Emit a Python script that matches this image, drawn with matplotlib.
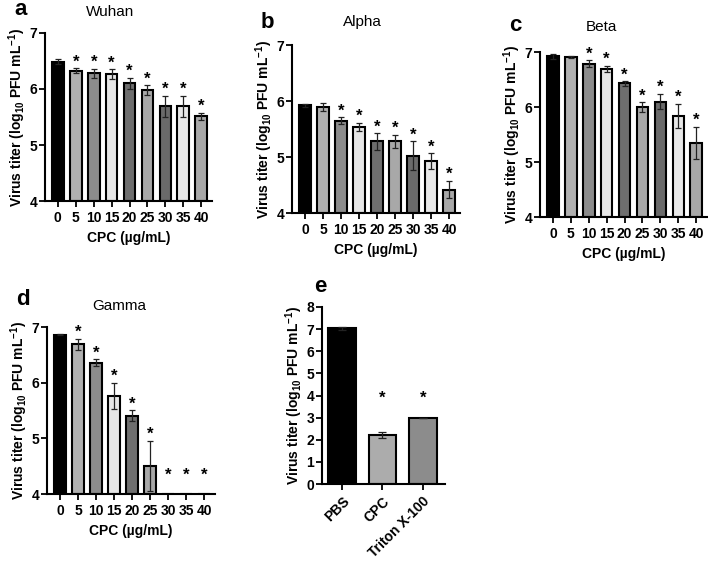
import numpy as np
import matplotlib
matplotlib.use('Agg')
import matplotlib.pyplot as plt

plt.rcParams['font.family'] = ['Liberation Sans', 'DejaVu Sans']
plt.rcParams['mathtext.fontset'] = 'custom'
plt.rcParams['mathtext.bf'] = 'Liberation Sans:bold'
plt.rcParams['mathtext.rm'] = 'Liberation Sans:bold'
plt.rcParams['mathtext.default'] = 'bf'

# concentrations (ug/mL)
conc = ['0', '5', '10', '15', '20', '25', '30', '35', '40']

wuhan = [6.49, 6.33, 6.28, 6.26, 6.10, 5.98, 5.69, 5.69, 5.51]
wuhan_err = [0.05, 0.04, 0.08, 0.09, 0.10, 0.09, 0.19, 0.19, 0.07]
wuhan_sig = [0, 1, 1, 1, 1, 1, 1, 1, 1]

alpha = [5.92, 5.89, 5.65, 5.54, 5.28, 5.28, 5.02, 4.93, 4.42]
alpha_err = [0.02, 0.07, 0.06, 0.07, 0.15, 0.12, 0.26, 0.14, 0.16]
alpha_sig = [0, 0, 1, 1, 1, 1, 1, 1, 1]

beta = [6.92, 6.91, 6.79, 6.69, 6.43, 6.00, 6.10, 5.84, 5.35]
beta_err = [0.04, 0.02, 0.06, 0.06, 0.04, 0.09, 0.14, 0.22, 0.29]
beta_sig = [0, 0, 1, 1, 1, 1, 1, 1, 1]

gamma = [6.86, 6.69, 6.36, 5.76, 5.41, 4.51, np.nan, np.nan, np.nan]
gamma_err = [0.01, 0.10, 0.06, 0.24, 0.10, 0.45, 0, 0, 0]
gamma_sig = [0, 1, 1, 1, 1, 1, 1, 1, 1]

treat = ['PBS', 'CPC', 'Triton X-100']
treat_val = [7.03, 2.21, 2.98]
treat_err = [0.06, 0.14, 0.0]
treat_sig = [0, 1, 1]

bar_colors = ['#000000', '#b0b0b0', '#8c8c8c', '#e6e6e6', '#6e6e6e',
              '#a8a8a8', '#6a6a6a', '#e8e8e8', '#a8a8a8']
treat_colors = ['#000000', '#acacac', '#8c8c8c']

ylab = r'Virus titer (log$_{10}$ PFU mL$^{-1}$)'

fig = plt.figure(figsize=(7.08, 5.64), dpi=100)


def style(ax):
    ax.spines['top'].set_visible(False)
    ax.spines['right'].set_visible(False)
    for s in ['left', 'bottom']:
        ax.spines[s].set_linewidth(1.5)
    ax.tick_params(width=1.3, length=4, labelsize=10)
    ax.tick_params(axis='y', pad=1.5)
    for lab in ax.get_xticklabels() + ax.get_yticklabels():
        lab.set_fontweight('bold')


def panel(rect, vals, errs, sig, title, letter, title_pad, title_x,
          letter_y, nan_star=4.22):
    ax = fig.add_axes(rect)
    x = np.arange(len(vals))
    v = np.array(vals, dtype=float)
    ax.bar(x, np.nan_to_num(v, nan=4.0) - 4, bottom=4, width=0.65,
           color=bar_colors, edgecolor='black', linewidth=1.5, zorder=2)
    ok = ~np.isnan(v)
    ax.errorbar(x[ok], v[ok], yerr=np.array(errs)[ok], fmt='none',
                ecolor='#222222', elinewidth=0.9, capsize=2.5,
                capthick=0.9, zorder=3)
    for i in range(len(vals)):
        if sig[i]:
            top = v[i] + errs[i] if ok[i] else nan_star
            ax.annotate('*', (x[i], top), xytext=(0, -1),
                        textcoords='offset points', ha='center',
                        va='bottom', fontsize=12, fontweight='bold')
    ax.set_ylim(4, 7)
    ax.set_yticks([4, 5, 6, 7])
    ax.set_xlim(-0.72, 8.6)
    ax.set_xticks(x)
    ax.set_xticklabels(conc)
    ax.set_xlabel('CPC (µg/mL)', fontsize=10, fontweight='bold')
    ax.set_ylabel(ylab, fontsize=10, fontweight='bold', labelpad=1)
    ax.set_title(title, fontsize=11, pad=title_pad, x=title_x)
    style(ax)
    ax.text(-0.185, letter_y, letter, transform=ax.transAxes, fontsize=16,
            fontweight='bold', va='baseline', ha='left')
    return ax


panel([0.0635, 0.6436, 0.2359, 0.2979], wuhan, wuhan_err, wuhan_sig,
      'Wuhan', 'a', 12, 0.39, 1.105)
panel([0.4124, 0.6223, 0.2373, 0.2979], alpha, alpha_err, alpha_sig,
      'Alpha', 'b', 14, 0.42, 1.1)
panel([0.7627, 0.6152, 0.2359, 0.2926], beta, beta_err, beta_sig,
      'Beta', 'c', 15, 0.37, 1.13)
panel([0.0664, 0.1241, 0.2373, 0.2961], gamma, gamma_err, gamma_sig,
      'Gamma', 'd', 12, 0.43, 1.13)

# panel e
ax = fig.add_axes([0.4548, 0.1418, 0.1737, 0.3139])
xe = np.arange(len(treat))
ax.bar(xe, treat_val, width=0.68, color=treat_colors, edgecolor='black',
       linewidth=1.5, zorder=2)
ax.errorbar(xe, treat_val, yerr=treat_err, fmt='none', ecolor='#222222',
            elinewidth=0.9, capsize=3, capthick=0.9, zorder=3)
for i in range(len(treat)):
    if treat_sig[i]:
        ax.text(xe[i], 3.55, '*', ha='center', va='bottom', fontsize=12,
                fontweight='bold')
ax.set_ylim(0, 8)
ax.set_yticks(range(0, 9))
ax.set_xlim(-0.5, 2.55)
ax.set_xticks(xe)
ax.set_xticklabels(treat, rotation=45, ha='right', rotation_mode='anchor')
ax.set_ylabel(ylab, fontsize=10, fontweight='bold', labelpad=1)
style(ax)
ax.text(-0.06, 1.085, 'e', transform=ax.transAxes, fontsize=16,
        fontweight='bold', va='baseline', ha='left')

fig.savefig('out.png', dpi=100)
